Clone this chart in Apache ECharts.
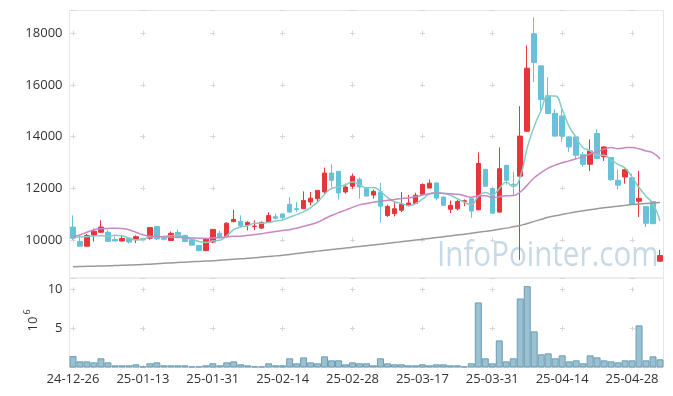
<!DOCTYPE html>
<html><head><meta charset="utf-8">
<script src="https://cdn.jsdelivr.net/npm/echarts@6/dist/echarts.min.js"></script>
<style>html,body{margin:0;padding:0;background:#fff}#c{width:673px;height:396px}</style>
</head><body><div id="c"></div><script>
const dates = ['24-12-26','24-12-27','24-12-30','25-01-02','25-01-03','25-01-06','25-01-07','25-01-08','25-01-09','25-01-10',
'25-01-13','25-01-14','25-01-15','25-01-16','25-01-17','25-01-20','25-01-21','25-01-22','25-01-23','25-01-24',
'25-01-31','25-02-03','25-02-04','25-02-05','25-02-06','25-02-07','25-02-10','25-02-11','25-02-12','25-02-13',
'25-02-14','25-02-17','25-02-18','25-02-19','25-02-20','25-02-21','25-02-24','25-02-25','25-02-26','25-02-27',
'25-02-28','25-03-04','25-03-05','25-03-06','25-03-07','25-03-10','25-03-11','25-03-12','25-03-13','25-03-14',
'25-03-17','25-03-18','25-03-19','25-03-20','25-03-21','25-03-24','25-03-25','25-03-26','25-03-27','25-03-28',
'25-03-31','25-04-01','25-04-02','25-04-03','25-04-04','25-04-07','25-04-08','25-04-09','25-04-10','25-04-11',
'25-04-14','25-04-15','25-04-16','25-04-17','25-04-18','25-04-21','25-04-22','25-04-23','25-04-24','25-04-25',
'25-04-28','25-04-29','25-04-30','25-05-02','25-05-07'];
const opens = [10500,9950,9760,10190,10300,10300,10020,9960,10070,10010,10050,10070,10520,10070,9980,10290,10180,10010,9790,9590,
9920,10260,10140,10710,10720,10580,10520,10460,10690,10900,11010,11380,11210,11210,11470,11600,11860,12590,12660,11860,
12080,12350,11990,11740,11860,10950,11020,11150,11340,11410,11770,12010,12210,11660,11190,11210,11490,11600,11170,12730,
11990,11080,12890,12160,12470,14210,17980,16740,15580,14900,14800,13990,13990,13300,12930,14120,13220,13190,12310,12440,
12410,11500,11300,11490,9180];
const closes = [10070,9760,10170,10340,10500,9950,9960,10060,9920,10130,10020,10480,10040,10030,10260,10140,9940,9800,9590,10060,
10410,10090,10650,10800,10550,10680,10540,10680,10950,10840,10860,11080,11180,11530,11620,11920,12590,12310,11820,12050,
12470,12050,11700,11880,11310,11300,11210,11380,11430,11730,12150,12200,11620,11340,11340,11490,11520,11120,12960,12080,
11040,12760,12310,12130,14020,16650,16870,15440,14900,14020,14020,13600,13280,12930,13440,13150,13600,12340,12120,12720,
11380,11610,10650,10630,9400];
const lows = [10000,9750,9740,9940,10280,9930,9950,9950,9870,9880,9980,10010,10000,9980,9970,10080,9920,9790,9560,9570,
9880,10060,10130,10700,10500,10370,10380,10440,10680,10800,10760,11060,11080,11200,11340,11430,11790,12030,11560,11790,
11990,11600,11690,11600,10670,10890,10910,11080,11300,11400,11750,12000,11530,11320,11040,11150,11310,10860,11150,12050,
11020,11050,12140,11730,9230,14180,16110,15030,14880,14000,13800,13410,13150,12830,12670,13130,13060,12280,11950,12180,
11360,10890,10500,10620,9170];
const highs = [10950,10210,10230,10440,10760,10400,10140,10150,10080,10180,10080,10490,10530,10170,10330,10410,10200,10030,9800,10080,
10420,10360,10690,11170,10950,10730,10760,10720,11070,11020,11020,11660,11470,11880,11860,11930,12800,12930,12670,12180,
12570,12420,12050,11950,12210,11370,11470,11860,11750,11830,12190,12340,12220,11680,11530,11550,11570,11620,13390,12760,
12020,13580,12900,12630,15180,17530,18620,16750,16300,15060,15060,14020,14010,13410,13890,14290,13620,13200,12730,12760,
12570,12670,11310,11500,9620];
const ma5 = [10130,10120,10130,10150,10168,10144,10184,10162,10078,10004,10018,10122,10118,10140,10166,10190,10082,10034,9946,9906,
9960,9990,10160,10402,10500,10554,10644,10650,10680,10738,10774,10882,10982,11098,11254,11466,11768,11994,12052,12138,
12248,12140,12018,12030,11882,11648,11480,11416,11326,11410,11580,11778,11826,11808,11730,11598,11462,11362,11686,11834,
11744,11992,12230,12064,12452,13574,14396,15022,15576,15576,15050,14396,13964,13570,13454,13280,13280,13092,12930,12786,
12432,12034,11696,11400,10734];
const ma20 = [10120,10200,10300,10400,10440,10450,10455,10450,10400,10300,10200,10150,10130,10120,10110,10100,10090,10080,10070,10061,
10078,10095,10119,10142,10144,10181,10210,10241,10292,10328,10370,10400,10457,10532,10600,10689,10821,10947,11058,11158,
11261,11359,11411,11465,11503,11534,11568,11603,11627,11671,11736,11792,11814,11804,11790,11769,11715,11656,11713,11714,
11643,11678,11709,11721,11857,12124,12407,12610,12784,12898,12992,13062,13145,13224,13329,13412,13516,13577,13535,13567,
13584,13527,13444,13369,13138];
const ma120 = [8970,8976,8982,8988,8994,9000,9010,9020,9030,9040,9050,9066,9082,9098,9114,9130,9144,9158,9172,9186,
9200,9218,9236,9254,9272,9290,9314,9338,9362,9386,9410,9442,9474,9506,9538,9570,9600,9630,9660,9690,
9720,9750,9780,9810,9840,9870,9902,9934,9966,9998,10030,10062,10094,10126,10158,10190,10226,10262,10298,10334,
10370,10415,10460,10510,10560,10640,10720,10800,10880,10935,10985,11040,11090,11130,11170,11210,11250,11280,11310,11340,
11370,11390,11410,11430,11450];
const volumes = [1.47,0.79,0.79,0.66,1.18,0.66,0.28,0.28,0.28,0.41,0.15,0.54,0.66,0.28,0.28,0.28,0.28,0.15,0.15,0.28,
0.54,0.28,0.66,0.79,0.41,0.28,0.15,0.15,0.54,0.28,0.28,1.18,0.54,1.3,0.66,0.54,1.43,0.92,0.92,0.41,
0.66,0.54,0.54,0.28,1.18,0.54,0.41,0.41,0.28,0.28,0.41,0.28,0.41,0.41,0.28,0.28,0.15,0.54,8.36,1.18,
0.54,3.48,0.79,1.18,8.87,10.45,4.64,1.69,1.82,1.18,1.56,0.79,0.92,0.54,1.56,1.3,0.92,0.79,0.66,0.92,
0.92,5.41,0.92,1.43,1.05];
const priceTicks = [10000,12000,14000,16000,18000];
const volTicks = [5,10];

const FONT = '"Open Sans", "Noto Sans", sans-serif';
const ohlc = dates.map((d,i)=>[opens[i], closes[i], lows[i], highs[i]]);
const markColor = '#d6d6d6';
const chart = echarts.init(document.getElementById('c'));
chart.setOption({
  animation:false,
  backgroundColor:'#fff',
  grid:[
    {left:69.5, top:10.5, width:594, height:267.5, show:true, borderColor:'#e6e6e6', borderWidth:1},
    {left:69.5, top:278, width:594, height:89.5, show:true, borderColor:'#e6e6e6', borderWidth:1}
  ],
  xAxis:[
    {type:'category', gridIndex:0, data:dates, boundaryGap:true,
     axisLine:{show:false}, axisTick:{show:false}, axisLabel:{show:false},
     splitLine:{show:true, interval:9, alignWithLabel:true, lineStyle:{color:markColor, width:1, type:[5,46.69], dashOffset:31.49}}},
    {type:'category', gridIndex:1, data:dates, boundaryGap:true,
     axisLine:{show:false}, axisTick:{show:false},
     axisLabel:{interval:9, fontFamily:FONT, fontSize:13, color:'#333', margin:5},
     splitLine:{show:true, interval:9, alignWithLabel:true, lineStyle:{color:markColor, width:1, type:[5,33.9], dashOffset:29.7}}}
  ],
  yAxis:[
    {type:'value', gridIndex:0, min:8530, max:18880, splitNumber:5, scale:true,
     axisLine:{show:false}, axisTick:{show:false},
     axisLabel:{fontFamily:FONT, fontSize:13, color:'#333', margin:7,
       formatter:v=>priceTicks.indexOf(v)>=0?String(v):''},
     splitLine:{show:true, lineStyle:{color:markColor, width:1, type:[5,64.9], dashOffset:68.9}}},
    {type:'value', gridIndex:1, min:0, max:11.5, interval:5,
     axisLine:{show:false}, axisTick:{show:false},
     axisLabel:{fontFamily:FONT, fontSize:13, color:'#333', margin:7,
       formatter:v=>volTicks.indexOf(v)>=0?String(v):''},
     splitLine:{show:true, lineStyle:{color:markColor, width:1, type:[5,64.9], dashOffset:68.9}}}
  ],
  graphic:[
    {type:'text', x:437, y:256, scaleX:0.845, z:0, style:{text:'InfoPointer.com', font:'35px "Open Sans"', fill:'#c8d9e6', textVerticalAlign:'middle'}},
    {type:'text', x:33, y:324, rotation:Math.PI/2, style:{text:'10', font:'13px "Open Sans"', fill:'#333', textAlign:'center', textVerticalAlign:'middle'}},
    {type:'text', x:27, y:312, rotation:Math.PI/2, style:{text:'6', font:'9px "Open Sans"', fill:'#333', textAlign:'center', textVerticalAlign:'middle'}}
  ],
  series:[
    {type:'candlestick', xAxisIndex:0, yAxisIndex:0, data:ohlc, barWidth:5,
     itemStyle:{color:'#e8353c', color0:'#67c1d9', borderColor:'#e8353c', borderColor0:'#67c1d9', borderWidth:1}},
    {type:'line', name:'MA5', xAxisIndex:0, yAxisIndex:0, data:ma5, smooth:true, symbol:'none',
     lineStyle:{color:'#86ccc2', width:1.5}},
    {type:'line', name:'MA20', xAxisIndex:0, yAxisIndex:0, data:ma20, smooth:true, symbol:'none',
     lineStyle:{color:'#c985c4', width:1.5}},
    {type:'line', name:'MA120', xAxisIndex:0, yAxisIndex:0, data:ma120, smooth:true, symbol:'none',
     lineStyle:{color:'#999999', width:1.5}},
    {type:'bar', xAxisIndex:1, yAxisIndex:1, data:volumes, barCategoryGap:'0%',
     itemStyle:{color:'#9bc0d0', borderColor:'#6a9db5', borderWidth:1}}
  ]
});
</script></body></html>
